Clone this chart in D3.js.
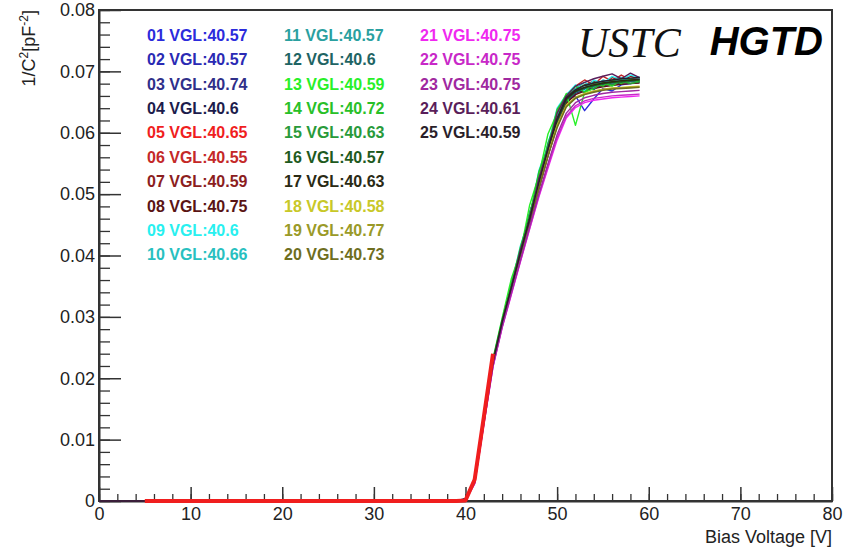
<!DOCTYPE html>
<html><head><meta charset="utf-8">
<script src="https://cdn.jsdelivr.net/npm/d3@7"></script>
<style>
html,body{margin:0;padding:0;background:#fff;}
svg{display:block;font-family:"Liberation Sans",Arial,sans-serif;}
</style></head>
<body>
<svg id="c" width="864" height="552"></svg>
<script>
// ---------- data ----------
const volts = [0,5,10,20,30,39,40,41,42,43,44,45,46,47,48,49,50,51,52,53,54,55,56,57,58,59];
const labels = ["01 VGL:40.57","02 VGL:40.57","03 VGL:40.74","04 VGL:40.6","05 VGL:40.65",
  "06 VGL:40.55","07 VGL:40.59","08 VGL:40.75","09 VGL:40.6","10 VGL:40.66",
  "11 VGL:40.57","12 VGL:40.6","13 VGL:40.59","14 VGL:40.72","15 VGL:40.63",
  "16 VGL:40.57","17 VGL:40.63","18 VGL:40.58","19 VGL:40.77","20 VGL:40.73",
  "21 VGL:40.75","22 VGL:40.75","23 VGL:40.75","24 VGL:40.61","25 VGL:40.59"];
const colors = ["#2b2bdc","#2a2ab4","#2f2f8a","#1c1c4c","#f01e1e",
  "#c42828","#8c1e1e","#5a1414","#28f0f0","#28c0c0",
  "#2aa0a0","#1e6464","#28f028","#28c028","#289a3a",
  "#1e5a1e","#2a2a14","#c8c828","#9a9a28","#6e6e1e",
  "#f028f0","#c828c8","#a028a0","#5a1e5a","#2a1e2a"];
const s01 = [0,0,0,0,0,0,.0002,.0034,.0132,.0228,.0292,.0348,.0402,.0468,.0510,.0575,.0612,.0652,.0660,.0636,.0655,.0672,.0668,.0678,.0680,.0682];
const s02 = [0,0,0,0,0,0,.0002,.0033,.0131,.0226,.0291,.0346,.0401,.0456,.0522,.0562,.0626,.0655,.0668,.0674,.0670,.0682,.0684,.0688,.0686,.0690];
const s03 = [0,0,0,0,0,0,.0001,.0031,.0129,.0224,.0289,.0344,.0399,.0454,.0509,.0564,.0614,.0650,.0664,.0670,.0674,.0677,.0679,.0681,.0683,.0684];
const s04 = [0,0,0,0,0,0,.0004,.0036,.0133,.0229,.0294,.0356,.0400,.0470,.0514,.0580,.0620,.0662,.0672,.0666,.0682,.0676,.0686,.0680,.0688,.0686];
const s05 = [null,0,0,0,0,0,.0001,.0035,.0137,.0240,null,null,null,null,null,null,null,null,null,null,null,null,null,null,null,null];
const s06 = [0,0,0,0,0,0,.0002,.0032,.0130,.0225,.0290,.0345,.0408,.0455,.0532,.0574,.0636,.0660,.0676,.0686,.0678,.0692,.0684,.0694,.0686,.0690];
const s07 = [0,0,0,0,0,0,.0002,.0033,.0131,.0227,.0292,.0347,.0403,.0466,.0512,.0578,.0618,.0660,.0670,.0678,.0684,.0676,.0690,.0684,.0692,.0688];
const s08 = [0,0,0,0,0,0,.0001,.0030,.0128,.0223,.0288,.0343,.0398,.0452,.0508,.0562,.0612,.0648,.0662,.0668,.0672,.0675,.0677,.0679,.0680,.0681];
const s09 = [0,0,0,0,0,0,.0002,.0034,.0134,.0230,.0296,.0352,.0416,.0462,.0538,.0580,.0640,.0662,.0678,.0668,.0686,.0680,.0692,.0686,.0694,.0690];
const s10 = [0,0,0,0,0,0,.0002,.0033,.0132,.0228,.0293,.0349,.0405,.0470,.0516,.0584,.0624,.0662,.0672,.0682,.0674,.0686,.0682,.0690,.0686,.0688];
const s11 = [0,0,0,0,0,0,.0002,.0032,.0131,.0227,.0292,.0348,.0404,.0460,.0524,.0568,.0630,.0654,.0670,.0674,.0682,.0684,.0678,.0688,.0684,.0686];
const s12 = [0,0,0,0,0,0,.0001,.0031,.0129,.0225,.0290,.0346,.0402,.0458,.0514,.0568,.0618,.0652,.0666,.0672,.0676,.0679,.0681,.0683,.0684,.0685];
const s13 = [0,0,0,0,0,0,.0002,.0035,.0135,.0232,.0298,.0362,.0406,.0482,.0530,.0598,.0632,.0664,.0612,.0666,.0672,.0682,.0676,.0686,.0680,.0684];
const s14 = [0,0,0,0,0,0,.0002,.0034,.0133,.0230,.0295,.0352,.0414,.0464,.0536,.0576,.0638,.0660,.0676,.0666,.0682,.0676,.0686,.0680,.0688,.0684];
const s15 = [0,0,0,0,0,0,.0002,.0033,.0132,.0228,.0293,.0349,.0405,.0468,.0518,.0582,.0622,.0660,.0670,.0678,.0672,.0682,.0678,.0684,.0680,.0683];
const s16 = [0,0,0,0,0,0,.0001,.0032,.0130,.0226,.0291,.0347,.0403,.0459,.0516,.0570,.0620,.0654,.0667,.0673,.0677,.0680,.0682,.0683,.0685,.0686];
const s17 = [0,0,0,0,0,0,.0002,.0033,.0131,.0227,.0292,.0348,.0404,.0461,.0519,.0573,.0622,.0656,.0668,.0674,.0678,.0681,.0683,.0685,.0686,.0687];
const s18 = [0,0,0,0,0,0,.0002,.0032,.0130,.0226,.0291,.0347,.0403,.0458,.0513,.0566,.0612,.0645,.0658,.0664,.0668,.0671,.0673,.0674,.0675,.0676];
const s19 = [0,0,0,0,0,0,.0001,.0031,.0129,.0224,.0289,.0345,.0400,.0455,.0510,.0563,.0610,.0643,.0657,.0663,.0667,.0670,.0672,.0673,.0674,.0675];
const s20 = [0,0,0,0,0,0,.0001,.0031,.0128,.0223,.0288,.0344,.0399,.0454,.0509,.0562,.0608,.0642,.0656,.0662,.0666,.0669,.0671,.0672,.0673,.0674];
const s21 = [0,0,0,0,0,0,.0001,.0028,.0124,.0218,.0282,.0336,.0390,.0443,.0495,.0542,.0588,.0624,.0641,.0649,.0653,.0655,.0657,.0658,.0659,.0660];
const s22 = [0,0,0,0,0,0,.0001,.0029,.0125,.0219,.0283,.0337,.0391,.0444,.0497,.0545,.0592,.0627,.0644,.0652,.0656,.0658,.0660,.0661,.0662,.0663];
const s23 = [0,0,0,0,0,0,.0001,.0029,.0126,.0220,.0284,.0339,.0393,.0447,.0500,.0550,.0597,.0632,.0649,.0657,.0661,.0664,.0666,.0667,.0668,.0669];
const s24 = [0,0,0,0,0,0,.0003,.0036,.0131,.0226,.0291,.0347,.0410,.0456,.0526,.0572,.0632,.0660,.0676,.0682,.0688,.0692,.0696,.0688,.0697,.0690];
const s25 = [0,0,0,0,0,0,.0003,.0035,.0131,.0227,.0292,.0348,.0404,.0460,.0518,.0574,.0623,.0657,.0670,.0677,.0681,.0684,.0686,.0688,.0689,.0690];
const seriesValues = [s01,s02,s03,s04,s05,s06,s07,s08,s09,s10,s11,s12,s13,s14,s15,s16,s17,s18,s19,s20,s21,s22,s23,s24,s25];
const xTicks = [0,10,20,30,40,50,60,70,80];
const yTicks = [0,0.01,0.02,0.03,0.04,0.05,0.06,0.07,0.08];

// ---------- layout ----------
const svg = d3.select("#c");
const L = 99, R = 832, T = 10, B = 501;
const x = d3.scaleLinear().domain([0,80]).range([L,R]);
const y = d3.scaleLinear().domain([0,0.08]).range([B,T]);
const axisColor = "#333";

// frame
svg.append("rect").attr("x",L).attr("y",T).attr("width",R-L).attr("height",B-T)
  .attr("fill","none").attr("stroke",axisColor).attr("stroke-width",2);

// minor ticks
const xMinor = d3.range(0,80.001,2), yMinor = d3.range(0,0.08001,0.002);
svg.append("g").attr("transform",`translate(0,${B})`)
  .call(d3.axisBottom(x).tickValues(xMinor).tickSize(-7).tickSizeOuter(0).tickFormat(""))
  .call(g => { g.select(".domain").remove(); g.selectAll("line").attr("stroke",axisColor).attr("stroke-width",1.3); });
svg.append("g").attr("transform",`translate(${L},0)`)
  .call(d3.axisLeft(y).tickValues(yMinor).tickSize(-11).tickSizeOuter(0).tickFormat(""))
  .call(g => { g.select(".domain").remove(); g.selectAll("line").attr("stroke",axisColor).attr("stroke-width",1.3); });

// major ticks + labels
svg.append("g").attr("transform",`translate(0,${B})`)
  .call(d3.axisBottom(x).tickValues(xTicks).tickSize(-14).tickSizeOuter(0).tickPadding(6).tickFormat(d3.format("d")))
  .call(g => { g.select(".domain").attr("stroke",axisColor).attr("stroke-width",2);
    g.selectAll("line").attr("stroke",axisColor).attr("stroke-width",1.5);
    g.selectAll("text").attr("fill","#222").attr("font-size",18).attr("font-family","Liberation Sans, Arial, sans-serif"); });
svg.append("g").attr("transform",`translate(${L},0)`)
  .call(d3.axisLeft(y).tickValues(yTicks).tickSize(-22).tickSizeOuter(0).tickPadding(4)
    .tickFormat(d => d === 0 ? "0" : d3.format(".2f")(d)))
  .call(g => { g.select(".domain").attr("stroke",axisColor).attr("stroke-width",2);
    g.selectAll("line").attr("stroke",axisColor).attr("stroke-width",1.5);
    g.selectAll("text").attr("fill","#222").attr("font-size",18).attr("font-family","Liberation Sans, Arial, sans-serif"); });

// curves (red drawn last, on top of the axis)
const line = d3.line().defined(d => d[1] !== null).x(d => x(d[0])).y(d => y(d[1]));
const order = d3.range(25).filter(i => i !== 4).concat([4]);
const gCurves = svg.append("g");
order.forEach(i => {
  const pts = volts.map((v,k) => [v, seriesValues[i][k]]);
  gCurves.append("path").attr("d", line(pts)).attr("fill","none")
    .attr("stroke", colors[i]).attr("stroke-width", i === 4 ? 4 : 1.4)
    .attr("stroke-linejoin","round");
});

// axis titles
svg.append("text").attr("x",R).attr("y",543).attr("text-anchor","end")
  .attr("font-size",18).attr("fill","#222").text("Bias Voltage [V]");
const yt = svg.append("text").attr("transform","translate(35,10) rotate(-90)")
  .attr("text-anchor","end").attr("font-size",18).attr("fill","#222");
yt.append("tspan").text("1/C");
yt.append("tspan").attr("dy",-7).attr("font-size",12).text("2");
yt.append("tspan").attr("dy",7).text("[pF");
yt.append("tspan").attr("dy",-7).attr("font-size",12).text("-2");
yt.append("tspan").attr("dy",7).text("]");

// legend
const colX = [147, 284, 420];
labels.forEach((t,i) => {
  const c = Math.floor(i/10), r = i % 10;
  svg.append("text").attr("x",colX[c]).attr("y",35 + r*24.4).attr("dy","0.36em")
    .attr("font-size",16).attr("font-weight","bold").attr("fill",colors[i]).text(t);
});

// titles
svg.append("text").attr("x",578).attr("y",57).attr("font-family","Liberation Serif, Times New Roman, serif")
  .attr("font-style","italic").attr("font-size",42).attr("fill","#111").text("USTC");
svg.append("text").attr("x",823).attr("y",55).attr("text-anchor","end")
  .attr("font-style","italic").attr("font-weight","bold").attr("font-size",40).attr("fill","#000").text("HGTD");
</script>
</body></html>
